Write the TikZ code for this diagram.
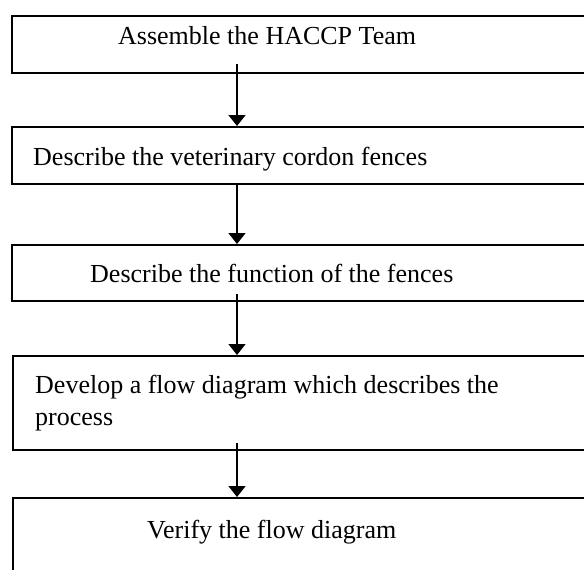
\documentclass[tikz,border=0pt]{standalone}
\usepackage{fontspec}
\setmainfont{Liberation Serif}
\usetikzlibrary{arrows.meta}
\begin{document}
\begin{tikzpicture}[x=1pt,y=-1pt,
  box/.style={draw=black,line width=2pt,rectangle,anchor=north west,minimum width=582pt,inner sep=0pt},
  lbl/.style={inner sep=0pt,anchor=base west,font=\fontsize{26}{32}\selectfont},
  flow/.style={draw=black,line width=1.6pt,-{Triangle[width=17pt,length=11pt]}}]
\useasboundingbox (0,0) rectangle (584,570);
\clip (0,0) rectangle (584,570);
% boxes
\node[box,minimum height=57pt] (b1) at (11,15) {};
\node[box,minimum height=57pt] (b2) at (11,126) {};
\node[box,minimum height=56pt] (b3) at (11,244) {};
\node[box,minimum height=94pt] (b4) at (12,355) {};
\node[box,minimum height=90pt] (b5) at (12,497) {};
% texts
\node[lbl] (t1) at (118,44) {Assemble the HACCP Team};
\node[lbl] (t2) at (33,165) {Describe the veterinary cordon fences};
\node[lbl] (t3) at (90,282) {Describe the function of the fences};
\node[lbl] (t4a) at (35,393) {Develop a flow diagram which describes the};
\node[lbl] (t4b) at (35,425) {process};
\node[lbl] (t5) at (147,538) {Verify the flow diagram};
% arrow anchor column
\coordinate (ax) at (237,0);
\draw[flow] ([yshift=10pt]b1.south -| ax) -- (b2.north -| ax);
\draw[flow] ([yshift=2pt]b2.south -| ax) -- (b3.north -| ax);
\draw[flow] ([yshift=8pt]b3.south -| ax) -- (b4.north -| ax);
\draw[flow] ([yshift=8pt]b4.south -| ax) -- (b5.north -| ax);
\end{tikzpicture}
\end{document}
